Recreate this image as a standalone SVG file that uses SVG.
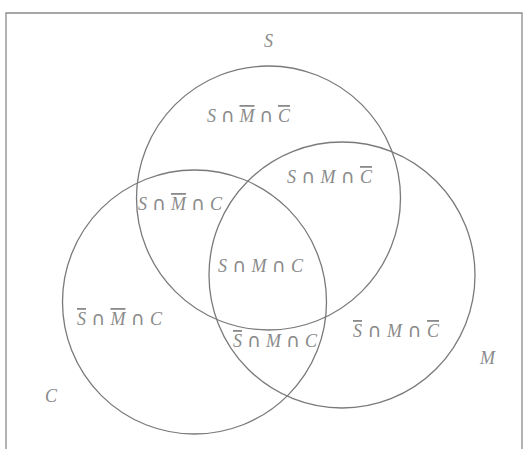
<svg xmlns="http://www.w3.org/2000/svg" width="525" height="449" viewBox="0 0 525 449">
<style>
.c{fill:none;stroke:#7a7a7a;stroke-width:1.3}
.t{font-family:"Liberation Serif",serif;font-style:italic;font-size:18px;fill:#8a8a8a}
.u{font-style:normal;font-family:"DejaVu Sans",sans-serif;font-size:19px}
.o{text-decoration:overline}
</style>
<rect x="0" y="0" width="525" height="449" fill="#fff"/>
<path d="M6,449 V13 H522 V449" fill="none" stroke="#8a8a8a" stroke-width="1.3"/>
<g id="connectors"></g>
<g id="circleS"><circle class="c" cx="268.5" cy="198" r="132"/></g>
<g id="circleM"><circle class="c" cx="342" cy="275" r="133"/></g>
<g id="circleC"><circle class="c" cx="194.5" cy="302" r="132"/></g>
<g id="labels">
<text class="t" x="264" y="47">S</text>
<text class="t" x="480" y="364">M</text>
<text class="t" x="45" y="402">C</text>
<text class="t" x="207" y="122" textLength="83" lengthAdjust="spacing">S<tspan class="u">∩</tspan><tspan class="o">M</tspan><tspan class="u">∩</tspan><tspan class="o">C</tspan></text>
<text class="t" x="287" y="183" textLength="85" lengthAdjust="spacing">S<tspan class="u">∩</tspan>M<tspan class="u">∩</tspan><tspan class="o">C</tspan></text>
<text class="t" x="138" y="210" textLength="84" lengthAdjust="spacing">S<tspan class="u">∩</tspan><tspan class="o">M</tspan><tspan class="u">∩</tspan>C</text>
<text class="t" x="218" y="272" textLength="85" lengthAdjust="spacing">S<tspan class="u">∩</tspan>M<tspan class="u">∩</tspan>C</text>
<text class="t" x="77" y="325" textLength="85" lengthAdjust="spacing"><tspan class="o">S</tspan><tspan class="u">∩</tspan><tspan class="o">M</tspan><tspan class="u">∩</tspan>C</text>
<text class="t" x="233" y="347" textLength="84" lengthAdjust="spacing"><tspan class="o">S</tspan><tspan class="u">∩</tspan>M<tspan class="u">∩</tspan>C</text>
<text class="t" x="353" y="337" textLength="86" lengthAdjust="spacing"><tspan class="o">S</tspan><tspan class="u">∩</tspan>M<tspan class="u">∩</tspan><tspan class="o">C</tspan></text>
</g>
</svg>
